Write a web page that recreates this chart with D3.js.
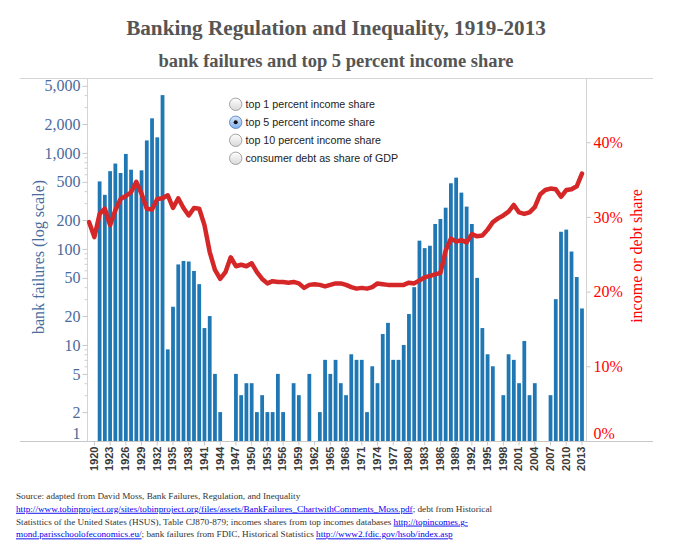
<!DOCTYPE html>
<html><head><meta charset="utf-8">
<script src="https://cdn.jsdelivr.net/npm/d3@7"></script>
<style>body{margin:0;background:#fff;} svg{display:block;}</style>
</head><body><svg id="c" width="685" height="555"></svg>
<script>
const years = [1919,1920,1921,1922,1923,1924,1925,1926,1927,1928,1929,1930,1931,1932,1933,1934,1935,1936,1937,1938,1939,1940,1941,1942,1943,1944,1945,1946,1947,1948,1949,1950,1951,1952,1953,1954,1955,1956,1957,1958,1959,1960,1961,1962,1963,1964,1965,1966,1967,1968,1969,1970,1971,1972,1973,1974,1975,1976,1977,1978,1979,1980,1981,1982,1983,1984,1985,1986,1987,1988,1989,1990,1991,1992,1993,1994,1995,1996,1997,1998,1999,2000,2001,2002,2003,2004,2005,2006,2007,2008,2009,2010,2011,2012,2013];
const bankFailures = [null,null,505,366,646,775,618,976,669,499,659,1350,2293,1453,4000,9,25,69,75,74,59,43,15,20,5,2,1,1,5,3,4,4,2,3,2,2,5,2,1,4,3,1,5,1,2,7,5,7,4,3,8,7,7,2,6,4,13,17,7,7,10,21,40,122,102,108,182,205,269,483,553,386,276,182,50,15,8,6,1,3,8,7,4,11,3,4,null,null,3,30,151,159,94,51,24];
const top5Share = [29.3,27.3,30.4,31.1,28.9,30.9,32.4,32.8,33.3,34.7,33.1,31.1,31.0,32.4,32.5,32.9,31.2,32.5,31.2,30.2,31.2,31.1,28.9,25.3,22.9,21.7,22.6,24.6,23.4,23.6,23.4,23.8,22.6,21.7,21.1,21.4,21.3,21.3,21.2,21.3,21.1,20.5,20.9,21.0,20.9,20.7,20.9,21.1,21.1,20.9,20.6,20.4,20.5,20.4,20.6,21.1,21.0,20.9,20.9,20.9,20.9,21.2,21.1,21.5,21.9,22.1,22.3,22.5,25.5,27.1,26.7,26.9,26.6,27.7,27.4,27.5,28.3,29.3,29.8,30.2,30.7,31.6,30.6,30.4,30.6,31.3,33.0,33.6,33.8,33.7,32.7,33.6,33.7,34.1,35.8];
const xTickYears = [1920,1923,1926,1929,1932,1935,1938,1941,1944,1947,1950,1953,1956,1959,1962,1965,1968,1971,1974,1977,1980,1983,1986,1989,1992,1995,1998,2001,2004,2007,2010,2013];
const leftTicks = [1,2,5,10,20,50,100,200,500,1000,2000,5000];
const leftMinor = [3,4,6,7,8,9,30,40,60,70,80,90,300,400,600,700,800,900,3000,4000];
const rightTicks = [0,10,20,30,40];
const legendItems = ["top 1 percent income share","top 5 percent income share","top 10 percent income share","consumer debt as share of GDP"];
const selectedItem = 1;

const svg = d3.select("#c");
const serif = "'Liberation Serif','Times New Roman',serif";
const sans = "'Liberation Sans',Arial,sans-serif";
const T = 78, B = 441, L = 87, R = 586;

const defs = svg.append("defs");
const gOff = defs.append("linearGradient").attr("id","rOff").attr("x1",0).attr("y1",0).attr("x2",0).attr("y2",1);
gOff.append("stop").attr("offset","0%").attr("stop-color","#ffffff");
gOff.append("stop").attr("offset","100%").attr("stop-color","#d8d8d8");
const gOn = defs.append("linearGradient").attr("id","rOn").attr("x1",0).attr("y1",0).attr("x2",0).attr("y2",1);
gOn.append("stop").attr("offset","0%").attr("stop-color","#d9e8fb");
gOn.append("stop").attr("offset","100%").attr("stop-color","#7fb0ee");

// Titles
svg.append("text").attr("x",336).attr("y",35).attr("text-anchor","middle")
  .style("font",`bold 21.2px ${serif}`).attr("fill","#555")
  .text("Banking Regulation and Inequality, 1919-2013");
svg.append("text").attr("x",336).attr("y",67).attr("text-anchor","middle")
  .style("font",`bold 18.5px ${serif}`).attr("fill","#555")
  .text("bank failures and top 5 percent income share");

// scales
const x = d3.scaleBand().domain(years).range([86.5,584.6]).paddingInner(0.28).paddingOuter(0.14);
const yL = d3.scaleLog().domain([1,6030]).range([B,T]);
const yR = d3.scaleLinear().domain([0,48.6]).range([B,T]);

// frame
svg.append("line").attr("x1",20).attr("x2",653).attr("y1",T+0.5).attr("y2",T+0.5).attr("stroke","#d4d4d4");
svg.append("line").attr("x1",20).attr("x2",653).attr("y1",B+0.5).attr("y2",B+0.5).attr("stroke","#c8c8c8");
svg.append("line").attr("x1",L+0.5).attr("x2",L+0.5).attr("y1",T).attr("y2",B).attr("stroke","#d4d4d4");
svg.append("line").attr("x1",R+0.5).attr("x2",R+0.5).attr("y1",T).attr("y2",B).attr("stroke","#d4d4d4");

// bars
const barData = years.map((y,i)=>({year:y,v:bankFailures[i]})).filter(d=>d.v!=null && d.v>1);
svg.append("g").selectAll("rect").data(barData).join("rect")
  .attr("x",d=>x(d.year)).attr("width",x.bandwidth())
  .attr("y",d=>yL(d.v)).attr("height",d=>B-yL(d.v))
  .attr("fill","#1f77b4");

// left axis
const axL = svg.append("g").attr("transform",`translate(${L+0.5},0)`)
  .call(d3.axisLeft(yL).tickValues(leftTicks).tickFormat(d3.format(",")).tickSize(5).tickPadding(2));
axL.select(".domain").remove();
axL.selectAll("line").attr("stroke","#c8c8c8");
axL.selectAll("text").style("font",`16px ${serif}`).attr("fill","#4a6b9c");
axL.selectAll(".tick").filter(d=>d===1).select("text").attr("dy","-0.18em");
const axLm = svg.append("g").attr("transform",`translate(${L+0.5},0)`)
  .call(d3.axisLeft(yL).tickValues(leftMinor).tickFormat("").tickSize(3));
axLm.select(".domain").remove();
axLm.selectAll("line").attr("stroke","#d0d0d0");

svg.append("text").attr("transform","translate(38,257) rotate(-90)").attr("text-anchor","middle")
  .attr("dy","0.35em").style("font",`16px ${serif}`).attr("fill","#4a6b9c")
  .text("bank failures (log scale)");

// right axis
const axR = svg.append("g").attr("transform",`translate(${R+0.5},0)`)
  .call(d3.axisRight(yR).tickValues(rightTicks).tickFormat(d=>d+"%").tickSize(4).tickPadding(3));
axR.select(".domain").remove();
axR.selectAll("line").attr("stroke","#c8c8c8");
axR.selectAll("text").style("font",`16px ${serif}`).attr("fill","#ff0000");
axR.selectAll(".tick").filter(d=>d===0).select("text").attr("dy","-0.18em");

svg.append("text").attr("transform","translate(636,256) rotate(-90)").attr("text-anchor","middle")
  .attr("dy","0.35em").style("font",`16px ${serif}`).attr("fill","#ff0000")
  .text("income or debt share");

// bottom axis
const axB = svg.append("g").attr("transform",`translate(0,${B+0.5})`)
  .call(d3.axisBottom(x).tickValues(xTickYears).tickSize(4).tickPadding(0));
axB.select(".domain").remove();
axB.selectAll("line").attr("stroke","#c8c8c8");
axB.selectAll("text").style("font",`bold 11px ${sans}`).attr("fill","#3a3a3a")
  .attr("text-anchor","end").attr("transform","rotate(-90)")
  .attr("x",-5).attr("y",0).attr("dy","0.3em");

// line
const lineData = years.map((y,i)=>({year:y,v:top5Share[i]}));
svg.append("path").datum(lineData)
  .attr("d",d3.line().x(d=>x(d.year)+x.bandwidth()/2).y(d=>yR(d.v)))
  .attr("fill","none").attr("stroke","#d62728").attr("stroke-width",4.5)
  .attr("stroke-linejoin","round").attr("stroke-linecap","round");

// legend
const lg = svg.append("g");
legendItems.forEach((t,i)=>{
  const cy = 104.3 + i*18;
  lg.append("circle").attr("cx",235.7).attr("cy",cy).attr("r",6.2)
    .attr("fill", i===selectedItem ? "url(#rOn)" : "url(#rOff)")
    .attr("stroke", i===selectedItem ? "#5b85c0" : "#9a9a9a").attr("stroke-width",0.9);
  if(i===selectedItem) lg.append("circle").attr("cx",235.7).attr("cy",cy).attr("r",2).attr("fill","#111");
  lg.append("text").attr("x",245.5).attr("y",cy).attr("dy","0.35em")
    .style("font",`10.7px ${sans}`).attr("fill","#222").text(t);
});

// source footer
const foot = [
  [["Source: adapted from David Moss, Bank Failures, Regulation, and Inequality",false]],
  [["http://www.tobinproject.org/sites/tobinproject.org/files/assets/BankFailures_ChartwithComments_Moss.pdf",true],["; debt from Historical",false]],
  [["Statisttics of the United States (HSUS), Table CJ870-879; incomes shares from top incomes databases ",false],["http://topincomes.g-",true]],
  [["mond.parisschoolofeconomics.eu/",true],["; bank failures from FDIC, Historical Statistics ",false],["http://www2.fdic.gov/hsob/index.asp",true]]
];
foot.forEach((parts,i)=>{
  const t = svg.append("text").attr("x",16).attr("y",499+i*12.8).style("font",`9.2px ${serif}`).attr("fill","#333");
  parts.forEach(([s,link])=>{
    t.append("tspan").text(s).attr("fill",link?"#0000ee":"#333")
      .style("text-decoration",link?"underline":"none");
  });
});
</script></body></html>
